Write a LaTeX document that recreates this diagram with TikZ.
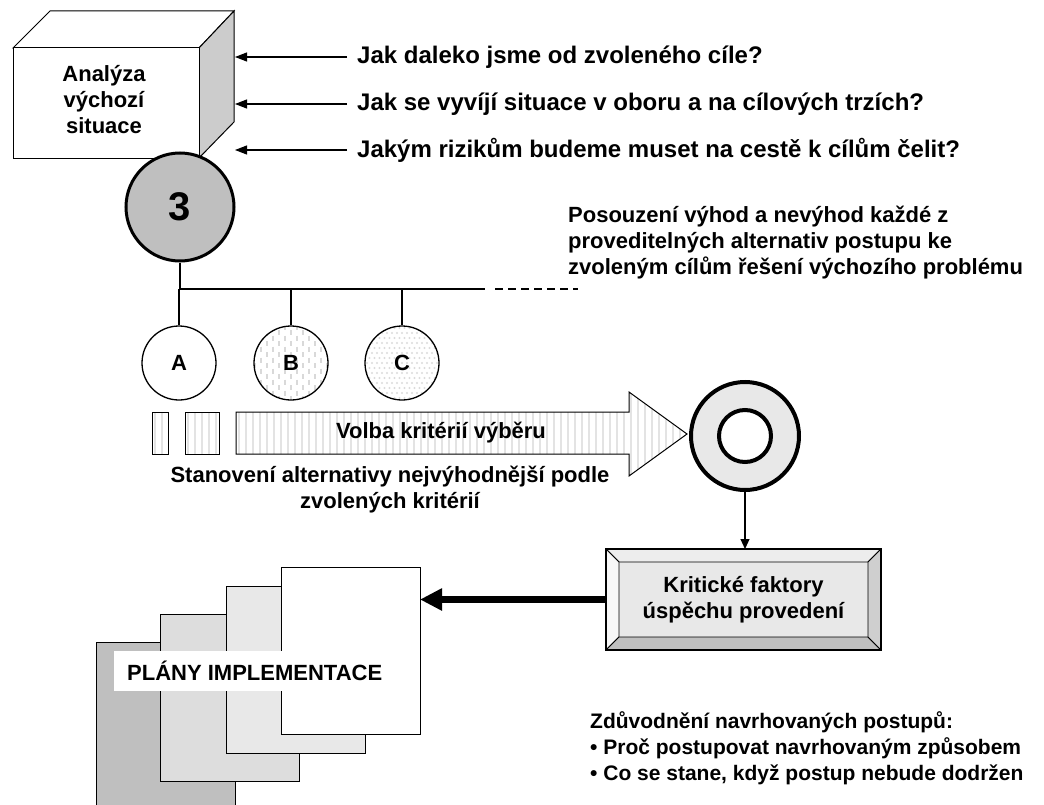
\documentclass[tikz,border=0pt]{standalone}
\usepackage{fontspec}
\setmainfont{Liberation Sans}
\usetikzlibrary{arrows.meta,calc}
\begin{document}
\begin{tikzpicture}[x=1bp,y=-1bp,
  txt/.style={font=\fontsize{22bp}{26bp}\selectfont\bfseries, inner sep=0pt},
  qtxt/.style={font=\fontsize{24bp}{28bp}\selectfont\bfseries, anchor=west, inner xsep=10bp, inner ysep=0pt},
  smallarrow/.style={-{Triangle[length=12bp,width=9bp]}, line width=1.1bp},
  letter/.style={circle, draw, line width=1.3bp, minimum size=74bp, inner sep=0pt, fill=white,
    font=\fontsize{22bp}{26bp}\selectfont\bfseries},
  page/.style={draw, line width=1bp, minimum width=139bp, minimum height=167bp, anchor=north west, inner sep=0pt, outer sep=0pt},
  stripes/.style={path picture={\foreach \k in {0,...,90} \draw[gray!22, line width=2bp] ($(path picture bounding box.north west)+(\k*7+3,-2)$) -- ++(0,110);}},
  bevel/.style={draw, line width=0.8bp},
]
\useasboundingbox (0,0) rectangle (1044,805);

% 3D box
\draw[line width=1bp, fill=white] (13,48) -- (50,11) -- (234,11) -- (199,48) -- cycle;
\draw[line width=1bp, fill=gray!40] (199,48) -- (234,11) -- (234,122) -- (199,158) -- cycle;
\node[draw, line width=1bp, fill=white, minimum width=186bp, minimum height=110bp, inner sep=0pt, outer sep=0pt, anchor=north west] (box) at (13,48) {};
\node[txt, align=center] (boxt) at (104,100) {Analýza\\výchozí\\situace};

% circle 3
\node[circle, draw, line width=3bp, fill=gray!50, minimum size=108bp, inner sep=0pt,
  font=\fontsize{40bp}{42bp}\selectfont\bfseries] (c3) at (180,207) {3};

% questions
\node[qtxt] (q1) at (347,57) {Jak daleko jsme od zvoleného cíle?};
\node[qtxt] (q2) at (347,104) {Jak se vyvíjí situace v oboru a na cílových trzích?};
\node[qtxt] (q3) at (347,150) {Jakým rizikům budeme muset na cestě k cílům čelit?};
\coordinate (t1) at (235,57);
\coordinate (t2) at (235,104);
\coordinate (t3) at (235,150);
\draw[smallarrow] (q1.west) -- (t1);
\draw[smallarrow] (q2.west) -- (t2);
\draw[smallarrow] (q3.west) -- (t3);

% bus
\coordinate (bus) at (180,289);
\coordinate (busE) at (485,289);
\coordinate (dashS) at (495,289);
\coordinate (dashE) at (578,289);
\draw[line width=1.2bp] (c3.south) -- (bus) -- (busE);
\draw[line width=1.2bp, dash pattern=on 8bp off 5bp] (dashS) -- (dashE);

\node[txt, align=left, anchor=west] (pos) at (568,243) {Posouzení výhod a nevýhod každé z\\proveditelných alternativ postupu ke\\zvoleným cílům řešení výchozího problému};

% alternatives
\node[letter] (A) at (179,363) {A};
\node[letter, path picture={\foreach \i in {0,...,12} \foreach \j in {0,...,8}
    \draw[gray!30, line width=1.2bp] ($(path picture bounding box.center)+({\i*6-36},{\j*11-44+mod(\i,2)*5.5})$) -- ++(0,5);}] (B) at (291,363) {B};
\node[letter, path picture={\foreach \i in {0,...,16} \foreach \j in {0,...,16}
    \fill[gray!28] ($(path picture bounding box.center)+({\i*5-40+mod(\j,2)*2.5},{\j*5-40})$) circle (1.1bp);}] (C) at (402,363) {C};
\draw[line width=1.2bp] (A.north |- bus) -- (A.north);
\draw[line width=1.2bp] (B.north |- bus) -- (B.north);
\draw[line width=1.2bp] (C.north |- bus) -- (C.north);

% striped blocks and arrow
\draw[line width=1bp, fill=white, stripes] (152,412) rectangle (168,454);
\draw[line width=1bp, fill=white, stripes] (185,412) rectangle (219,454);
\draw[line width=1bp, fill=white, stripes] (236,412) -- (629,412) -- (629,392) -- (687,434) -- (629,476) -- (629,454) -- (236,454) -- cycle;
\node[txt] (volba) at (441,433) {Volba kritérií výběru};

% ring
\node[circle, draw, line width=4bp, fill=gray!18, minimum size=108bp, inner sep=0pt] (ring) at (745,436) {};
\node[circle, draw, line width=4bp, fill=white, minimum size=52bp, inner sep=0pt] (ringin) at (ring.center) {};

\node[txt, align=center] (stan) at (390,490) {Stanovení alternativy nejvýhodnější podle\\zvolených kritérií};

% critical factors box
\node[draw, line width=1bp, fill=gray!18, minimum width=275bp, minimum height=101bp, inner sep=0pt, outer sep=0pt] (kf) at (743.5,599.5) {};
\coordinate (o1) at (kf.north west);
\coordinate (o2) at (kf.north east);
\coordinate (o3) at (kf.south east);
\coordinate (o4) at (kf.south west);
\coordinate (i1) at ($(o1)+(13,13)$);
\coordinate (i2) at ($(o2)+(-13,13)$);
\coordinate (i3) at ($(o3)+(-13,-13)$);
\coordinate (i4) at ($(o4)+(13,-13)$);
\draw[bevel, fill=gray!14] (o1) -- (o2) -- (i2) -- (i1) -- cycle;
\draw[bevel, fill=gray!6] (o1) -- (i1) -- (i4) -- (o4) -- cycle;
\draw[bevel, fill=gray!50] (o4) -- (i4) -- (i3) -- (o3) -- cycle;
\draw[bevel, fill=gray!38] (o2) -- (o3) -- (i3) -- (i2) -- cycle;
\draw[line width=1.2bp] (o1) rectangle (o3);
\node[txt, align=center] (kft) at (kf.center) {Kritické faktory\\úspěchu provedení};

\draw[smallarrow, -{Triangle[length=10bp,width=9bp]}] (ring.south) -- (ring.south |- kf.north);

% pages
\node[page, fill=gray!50] (p4) at (96,642) {};
\node[page, fill=gray!27] (p3) at (160,614) {};
\node[page, fill=gray!18] (p2) at (226,586) {};
\node[page, fill=white] (p1) at (281,567) {};
\node[txt, fill=white, inner xsep=13bp, minimum height=40bp, anchor=west] (plany) at (114,671) {PLÁNY IMPLEMENTACE};

\draw[line width=7bp, -{Triangle[length=22bp,width=21bp]}] (kf.west) -- (kf.west -| p1.east);

\node[txt, font=\fontsize{21bp}{26bp}\selectfont\bfseries, align=left, anchor=west] (zd) at (590,748) {Zdůvodnění navrhovaných postupů:\\• Proč postupovat navrhovaným způsobem\\• Co se stane, když postup nebude dodržen};
\end{tikzpicture}
\end{document}
